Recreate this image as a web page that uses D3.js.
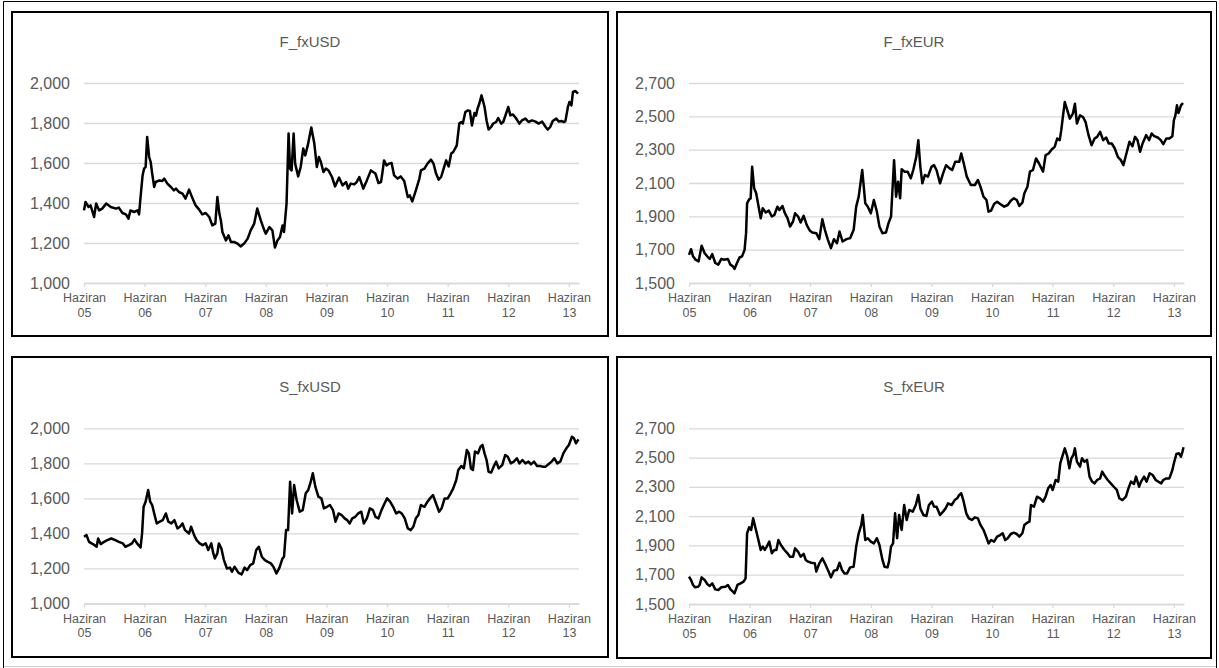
<!DOCTYPE html>
<html>
<head>
<meta charset="utf-8">
<script src="https://cdn.jsdelivr.net/npm/d3@7"></script>
<style>
  body { margin: 0; background: #fff; }
  text { font-family: "Liberation Sans", Arial, sans-serif; }
</style>
</head>
<body>
<svg id="chart" width="1219" height="668"></svg>
<script>
"use strict";
// x values are months counted from Haziran (June) 2005
const monthTicks = [0, 12, 24, 36, 48, 60, 72, 84, 96];
const tickYears = ["05", "06", "07", "08", "09", "10", "11", "12", "13"];
const usdTicks = [1000, 1200, 1400, 1600, 1800, 2000];
const eurTicks = [1500, 1700, 1900, 2100, 2300, 2500, 2700];

const fUsd = [[0,1363],[0.3,1405],[0.9,1380],[1.3,1388],[2.0,1330],[2.4,1397],[3.0,1363],[3.6,1372],[4.4,1397],[5.3,1380],[6.3,1372],[6.9,1377],[7.6,1350],[8.3,1343],[8.8,1322],[9.2,1363],[9.9,1355],[10.6,1363],[10.9,1343],[11.2,1430],[11.6,1538],[11.9,1572],[12.2,1580],[12.5,1730],[12.9,1630],[13.2,1605],[13.5,1547],[13.9,1480],[14.2,1505],[14.9,1513],[15.5,1510],[15.9,1522],[16.5,1497],[17.2,1480],[17.8,1463],[18.2,1472],[18.8,1455],[19.5,1447],[20.1,1422],[20.8,1467],[21.5,1422],[22.1,1388],[22.8,1367],[23.4,1343],[24.1,1350],[24.8,1330],[25.4,1288],[26.0,1297],[26.4,1430],[26.8,1347],[27.1,1313],[27.4,1255],[28.1,1213],[28.6,1238],[29.1,1205],[29.7,1205],[30.4,1197],[31.0,1183],[31.7,1197],[32.4,1222],[33.0,1263],[33.7,1297],[34.3,1372],[35.0,1313],[35.7,1263],[36.0,1247],[36.7,1280],[37.3,1263],[37.8,1177],[38.3,1213],[38.8,1230],[39.3,1288],[39.6,1255],[40.1,1397],[40.5,1747],[40.8,1572],[41.1,1563],[41.5,1747],[41.8,1597],[42.4,1533],[42.9,1580],[43.4,1672],[43.8,1638],[44.3,1688],[45.0,1777],[45.6,1697],[46.1,1580],[46.5,1630],[46.9,1605],[47.4,1555],[47.9,1572],[48.4,1563],[49.1,1530],[49.7,1483],[50.5,1527],[51.2,1488],[51.9,1505],[52.3,1472],[52.8,1497],[53.5,1493],[54.0,1505],[54.5,1530],[55.3,1472],[56.0,1513],[56.8,1563],[57.7,1547],[58.3,1500],[58.8,1505],[59.1,1555],[59.4,1613],[59.9,1588],[60.4,1597],[60.9,1600],[61.4,1538],[62.1,1522],[62.7,1533],[63.4,1510],[64.1,1430],[64.5,1438],[65.0,1408],[65.7,1463],[66.4,1522],[66.7,1563],[67.4,1572],[68.0,1597],[68.7,1617],[69.2,1597],[69.7,1547],[70.2,1517],[70.7,1530],[71.1,1563],[71.7,1613],[72.2,1583],[72.7,1647],[73.1,1655],[73.8,1688],[74.3,1797],[74.7,1805],[75.0,1797],[75.5,1855],[76.0,1863],[76.4,1860],[76.8,1788],[77.3,1850],[77.6,1837],[77.9,1870],[78.3,1900],[78.7,1938],[79.3,1880],[79.7,1813],[80.1,1767],[80.6,1780],[81.0,1797],[81.6,1805],[82.0,1825],[82.6,1797],[83.0,1805],[83.6,1850],[84.0,1880],[84.4,1838],[84.9,1843],[85.5,1825],[86.2,1797],[86.7,1813],[87.4,1822],[88.0,1805],[88.7,1813],[89.4,1807],[90.0,1797],[90.7,1807],[91.4,1780],[91.8,1767],[92.3,1780],[92.8,1810],[93.5,1822],[94.0,1807],[94.5,1810],[95.0,1805],[95.3,1808],[95.8,1880],[96.1,1905],[96.5,1888],[96.8,1955],[97.3,1960],[97.8,1947]];

const fEur = [[0,1669],[0.4,1703],[0.8,1660],[1.3,1640],[1.9,1630],[2.5,1723],[3.1,1679],[3.6,1660],[4.1,1644],[4.6,1673],[5.2,1620],[5.8,1610],[6.4,1645],[6.9,1640],[7.7,1644],[8.2,1610],[8.7,1600],[9.0,1584],[9.5,1620],[10.0,1653],[10.5,1660],[11.0,1699],[11.3,1799],[11.5,1978],[11.9,2002],[12.2,2008],[12.5,2197],[12.9,2068],[13.3,2038],[13.9,1938],[14.2,1889],[14.6,1948],[15.2,1923],[15.8,1934],[16.4,1899],[16.9,1908],[17.5,1958],[17.9,1938],[18.5,1962],[19.0,1918],[19.5,1889],[20.0,1839],[20.6,1869],[21.0,1918],[21.6,1899],[22.1,1863],[22.7,1903],[23.3,1849],[23.9,1815],[24.4,1803],[25.2,1799],[25.8,1763],[26.4,1883],[26.9,1819],[27.5,1759],[28.1,1709],[28.7,1763],[29.3,1739],[29.8,1809],[30.4,1749],[31.2,1763],[31.9,1769],[32.6,1819],[33.1,1958],[33.6,2018],[34.3,2178],[34.9,1978],[35.4,1958],[36.0,1918],[36.6,1998],[37.2,1928],[37.7,1839],[38.3,1799],[39.0,1803],[39.5,1859],[40.0,1899],[40.6,2237],[41.0,2018],[41.4,2108],[41.8,2008],[42.1,2182],[42.7,2168],[43.3,2168],[43.9,2128],[44.4,2178],[45.0,2257],[45.4,2357],[45.8,2197],[46.2,2098],[46.7,2148],[47.3,2138],[48.0,2197],[48.5,2207],[49.0,2178],[49.7,2098],[50.3,2158],[50.9,2207],[51.6,2188],[52.1,2178],[52.7,2227],[53.5,2227],[53.9,2277],[54.4,2217],[55.0,2138],[55.8,2088],[56.6,2088],[57.2,2118],[57.7,2078],[58.3,2018],[58.9,1998],[59.3,1928],[59.8,1934],[60.4,1974],[61.0,1988],[61.6,1974],[62.4,1958],[63.1,1968],[63.7,1994],[64.3,2008],[64.9,1998],[65.4,1962],[66.0,1982],[66.4,2038],[67.0,2078],[67.5,2168],[68.1,2178],[68.7,2247],[69.3,2217],[70.1,2168],[70.6,2267],[71.2,2277],[71.8,2301],[72.4,2317],[72.9,2367],[73.4,2357],[73.7,2417],[74.1,2516],[74.4,2586],[74.9,2536],[75.4,2486],[76.0,2516],[76.4,2576],[76.8,2457],[77.4,2506],[78.0,2496],[78.5,2467],[79.1,2387],[79.7,2327],[80.3,2367],[80.8,2377],[81.4,2407],[82.0,2357],[82.6,2373],[83.1,2337],[83.7,2337],[84.3,2307],[84.9,2257],[85.5,2237],[86.0,2207],[86.6,2277],[87.2,2347],[87.8,2321],[88.3,2377],[88.8,2357],[89.3,2287],[89.8,2337],[90.5,2387],[91.1,2357],[91.6,2397],[92.1,2381],[92.8,2373],[93.4,2357],[93.9,2333],[94.5,2367],[95.1,2367],[95.7,2381],[96.0,2477],[96.3,2506],[96.6,2566],[96.9,2520],[97.4,2566],[97.8,2580]];

const sUsd = [[0,1381],[0.5,1390],[1.0,1352],[1.5,1343],[2.1,1333],[2.5,1324],[2.8,1371],[3.3,1339],[3.8,1349],[4.6,1362],[5.4,1371],[6.2,1362],[6.9,1352],[7.7,1343],[8.2,1324],[8.9,1333],[9.5,1343],[10.0,1366],[10.5,1343],[11.2,1320],[11.5,1400],[11.8,1552],[12.2,1581],[12.7,1648],[13.1,1581],[13.5,1562],[13.9,1514],[14.4,1457],[15.0,1467],[15.6,1476],[16.2,1514],[16.7,1467],[17.3,1457],[17.9,1476],[18.5,1429],[19.0,1438],[19.5,1457],[20.0,1419],[20.8,1400],[21.2,1438],[21.8,1390],[22.3,1362],[22.9,1343],[23.5,1333],[24.1,1343],[24.6,1305],[25.2,1343],[25.6,1286],[25.9,1257],[26.4,1286],[26.7,1343],[27.2,1314],[27.7,1248],[28.3,1200],[28.9,1205],[29.3,1181],[29.8,1210],[30.6,1175],[31.2,1166],[31.8,1205],[32.3,1190],[32.9,1219],[33.5,1229],[34.1,1305],[34.6,1324],[35.2,1267],[35.8,1248],[36.4,1238],[37.0,1229],[37.5,1210],[38.1,1171],[38.7,1205],[39.3,1257],[39.6,1267],[40.0,1419],[40.4,1419],[40.8,1695],[41.2,1514],[41.6,1676],[42.1,1591],[42.7,1524],[43.3,1533],[43.9,1629],[44.4,1648],[44.9,1695],[45.3,1743],[45.8,1667],[46.4,1610],[47.0,1600],[47.5,1543],[48.1,1552],[48.7,1562],[49.3,1533],[49.8,1467],[50.4,1514],[51.0,1505],[51.6,1486],[52.1,1476],[52.6,1457],[53.1,1486],[53.7,1495],[54.3,1514],[54.9,1524],[55.4,1457],[56.0,1486],[56.6,1543],[57.2,1533],[57.7,1495],[58.3,1486],[58.9,1533],[59.5,1571],[60.0,1600],[60.6,1581],[61.2,1552],[61.8,1514],[62.4,1524],[62.9,1514],[63.5,1486],[64.1,1429],[64.7,1419],[65.2,1438],[65.7,1486],[66.2,1505],[66.7,1562],[67.4,1552],[68.0,1581],[68.5,1600],[69.1,1619],[69.7,1571],[70.3,1524],[70.8,1543],[71.4,1600],[72.0,1600],[72.6,1629],[73.1,1657],[73.7,1705],[74.1,1762],[74.7,1785],[75.2,1771],[75.8,1876],[76.2,1857],[76.6,1771],[77.0,1762],[77.4,1867],[78.0,1857],[78.5,1895],[78.9,1905],[79.3,1857],[79.7,1819],[80.1,1752],[80.6,1747],[81.1,1781],[81.6,1810],[82.1,1771],[82.8,1790],[83.4,1848],[83.9,1838],[84.5,1800],[85.1,1810],[85.7,1829],[86.2,1800],[86.8,1819],[87.4,1800],[88.0,1810],[88.5,1794],[89.1,1810],[89.7,1785],[90.3,1785],[90.8,1781],[91.4,1781],[92.0,1796],[92.6,1810],[93.1,1829],[93.7,1800],[94.3,1810],[94.9,1857],[95.5,1886],[96.0,1905],[96.6,1952],[97.0,1943],[97.4,1914],[97.9,1937]];

const sEur = [[0,1687],[0.4,1664],[0.8,1630],[1.2,1614],[1.8,1618],[2.1,1630],[2.5,1682],[3.1,1664],[3.6,1637],[4.1,1623],[4.6,1641],[5.2,1600],[5.8,1596],[6.4,1614],[7.2,1618],[7.7,1630],[8.2,1600],[8.7,1584],[9.0,1573],[9.6,1630],[10.2,1641],[10.8,1653],[11.2,1675],[11.5,1983],[11.9,2024],[12.3,2006],[12.7,2085],[13.1,2028],[13.5,1971],[13.9,1914],[14.2,1869],[14.6,1892],[15.0,1869],[15.4,1892],[15.9,1926],[16.4,1846],[16.9,1869],[17.3,1869],[17.7,1937],[18.2,1903],[18.9,1869],[19.5,1846],[20.0,1823],[20.6,1823],[21.0,1880],[21.6,1857],[22.1,1823],[22.7,1842],[23.1,1801],[23.6,1789],[24.2,1782],[24.9,1778],[25.2,1721],[25.8,1778],[26.4,1812],[26.9,1778],[27.5,1732],[28.1,1682],[28.7,1728],[29.3,1732],[29.8,1782],[30.3,1732],[30.8,1709],[31.3,1709],[31.9,1750],[32.6,1755],[33.1,1892],[33.6,1983],[34.1,2040],[34.4,2108],[34.9,1937],[35.4,1949],[36.0,1926],[36.6,1914],[37.2,1949],[37.7,1903],[38.3,1801],[38.7,1755],[39.3,1750],[39.6,1789],[40.0,1892],[40.4,1914],[40.8,2119],[41.2,1949],[41.6,2108],[42.1,2006],[42.6,2176],[43.1,2074],[43.6,2142],[44.3,2131],[44.9,2176],[45.4,2245],[45.8,2153],[46.4,2108],[47.0,2101],[47.5,2176],[48.1,2199],[48.5,2165],[49.0,2165],[49.7,2108],[50.3,2131],[50.8,2153],[51.3,2188],[52.0,2176],[52.6,2210],[53.1,2222],[53.5,2245],[53.9,2256],[54.3,2210],[54.9,2119],[55.4,2085],[56.0,2074],[56.6,2092],[57.2,2085],[57.7,2040],[58.3,2006],[58.7,1971],[59.3,1914],[59.8,1937],[60.4,1926],[61.0,1960],[61.6,1971],[62.1,1983],[62.6,1937],[63.1,1949],[63.7,1978],[64.3,1987],[64.9,1978],[65.4,1960],[66.0,1983],[66.4,2040],[67.0,2056],[67.4,2062],[67.7,2176],[68.3,2165],[68.9,2233],[69.5,2222],[70.1,2199],[70.6,2233],[71.1,2290],[71.6,2313],[72.0,2279],[72.6,2347],[73.1,2336],[73.5,2461],[73.9,2506],[74.4,2563],[74.9,2506],[75.3,2427],[75.7,2495],[76.1,2518],[76.4,2563],[76.8,2472],[77.4,2438],[77.8,2495],[78.3,2472],[78.8,2484],[79.3,2370],[79.8,2336],[80.3,2324],[80.8,2347],[81.4,2358],[81.8,2404],[82.4,2370],[82.9,2347],[83.5,2324],[84.1,2301],[84.7,2279],[85.2,2222],[85.8,2210],[86.5,2233],[87.0,2290],[87.5,2336],[88.1,2320],[88.5,2370],[89.1,2301],[89.5,2336],[90.1,2370],[90.6,2336],[91.2,2393],[91.8,2381],[92.4,2347],[92.9,2336],[93.5,2324],[93.9,2347],[94.5,2358],[95.1,2358],[95.7,2415],[96.0,2461],[96.5,2525],[97.0,2529],[97.4,2506],[97.7,2541],[97.9,2570]];

const svg = d3.select("#chart");
const grey = "#595959";
const gridColor = "#d9d9d9";

// frame of the sheet around the four charts
svg.append("path")
    .attr("d", "M3.5,668 V1.5 H1216.5 V668")
    .attr("fill", "none").attr("stroke", "#000").attr("stroke-width", 1);
svg.append("line")
    .attr("x1", 4).attr("x2", 1216).attr("y1", 666.5).attr("y2", 666.5)
    .attr("stroke", "#d0d0d0");

// Layout for each of the 4 panels
const panels = [
    { title: "F_fxUSD", data: fUsd, ticks: usdTicks, box: [12, 12, 596, 324], xr: [84, 579], yr: [283, 83], titleY: 47 },
    { title: "F_fxEUR", data: fEur, ticks: eurTicks, box: [617, 12, 594, 324], xr: [689, 1184], yr: [283, 83], titleY: 47 },
    { title: "S_fxUSD", data: sUsd, ticks: usdTicks, box: [12, 357, 596, 300], xr: [84, 579], yr: [603.5, 428.3], titleY: 392 },
    { title: "S_fxEUR", data: sEur, ticks: eurTicks, box: [617, 357, 594, 301], xr: [689, 1184], yr: [604, 428.3], titleY: 392 }
];

panels.forEach(drawPanel);

function drawPanel(p) {
    const g = svg.append("g");

    g.append("rect")
        .attr("x", p.box[0]).attr("y", p.box[1])
        .attr("width", p.box[2]).attr("height", p.box[3])
        .attr("fill", "#fff").attr("stroke", "#000").attr("stroke-width", 2);

    // title
    g.append("text")
        .attr("x", p.box[0] + p.box[2] / 2)
        .attr("y", p.titleY)
        .attr("text-anchor", "middle")
        .attr("font-size", 15)
        .attr("fill", grey)
        .text(p.title);

    const x = d3.scaleLinear().domain([0, 98]).range(p.xr);
    const y = d3.scaleLinear().domain([p.ticks[0], p.ticks[p.ticks.length - 1]]).range(p.yr);

    // horizontal gridlines + y labels
    const yAxis = g.append("g")
        .attr("transform", `translate(${p.xr[0]},0)`)
        .call(d3.axisLeft(y)
            .tickValues(p.ticks)
            .tickSize(-(p.xr[1] - p.xr[0]))
            .tickPadding(14)
            .tickFormat(d3.format(",")));
    yAxis.select(".domain").remove();
    yAxis.selectAll("line").attr("stroke", gridColor).attr("stroke-width", 1.3);
    yAxis.selectAll("text")
        .attr("font-size", 16)
        .attr("fill", grey)
        .attr("font-family", "Liberation Sans, Arial, sans-serif");

    // x axis at the bottom
    const xAxis = g.append("g")
        .attr("transform", `translate(0,${p.yr[0]})`)
        .call(d3.axisBottom(x)
            .tickValues(monthTicks)
            .tickSize(4)
            .tickSizeOuter(0)
            .tickFormat(""));
    xAxis.selectAll("path, line").attr("stroke", gridColor).attr("stroke-width", 1.3);

    const labels = xAxis.selectAll(".tick").append("text")
        .attr("text-anchor", "middle")
        .attr("font-size", 12.5)
        .attr("fill", grey)
        .attr("font-family", "Liberation Sans, Arial, sans-serif");
    labels.append("tspan").attr("x", 0).attr("y", 19).text("Haziran");
    labels.append("tspan").attr("x", 0).attr("y", 33.5).text((d, i) => tickYears[i]);

    // series line
    const line = d3.line()
        .x(d => x(d[0]))
        .y(d => y(d[1]));

    g.append("path")
        .datum(p.data)
        .attr("fill", "none")
        .attr("stroke", "#000")
        .attr("stroke-width", 2.5)
        .attr("stroke-linejoin", "round")
        .attr("d", line);
}
</script>
</body>
</html>
